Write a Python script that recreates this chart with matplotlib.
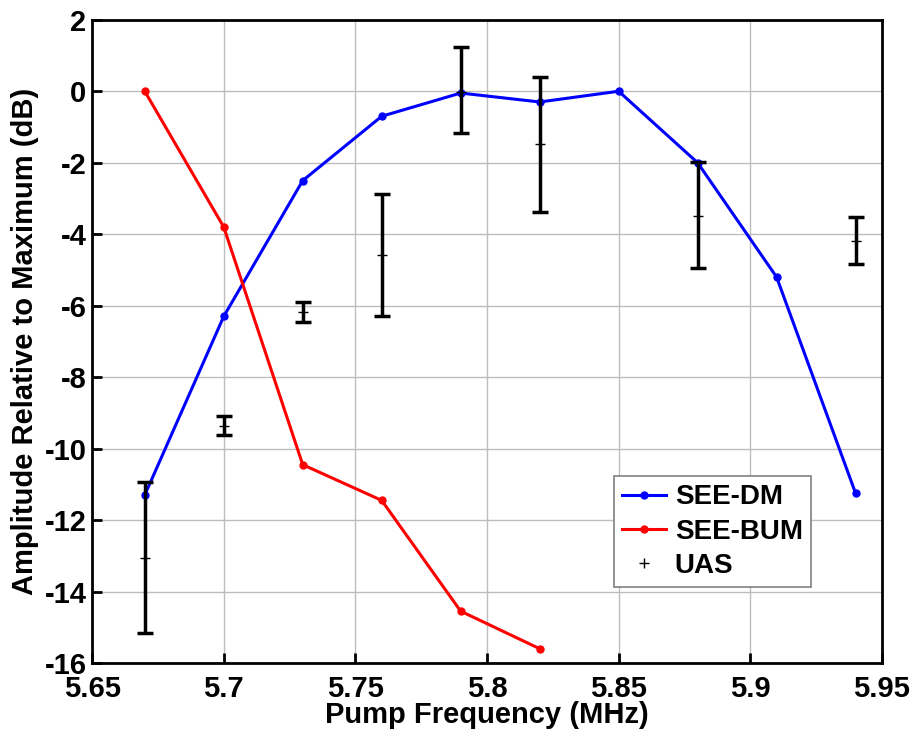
import numpy as np
import matplotlib
matplotlib.use('Agg')
import matplotlib.pyplot as plt
from matplotlib.lines import Line2D

plt.rcParams['font.family'] = ['Liberation Sans', 'DejaVu Sans']
plt.rcParams['font.weight'] = 'bold'
plt.rcParams['axes.unicode_minus'] = False

# SEE-DM
dm_freq = [5.67, 5.70, 5.73, 5.76, 5.79, 5.82, 5.85, 5.88, 5.91, 5.94]
dm_amp = [-11.3, -6.3, -2.5, -0.7, -0.05, -0.3, 0.0, -2.0, -5.2, -11.25]

# SEE-BUM
bum_freq = [5.67, 5.70, 5.73, 5.76, 5.79, 5.82]
bum_amp = [0.0, -3.8, -10.45, -11.45, -14.55, -15.6]

# UAS with asymmetric error bars
uas_freq = [5.67, 5.70, 5.73, 5.76, 5.79, 5.82, 5.88, 5.94]
uas_amp = [-13.07, -9.36, -6.17, -4.58, -0.02, -1.48, -3.49, -4.18]
uas_top = [-10.94, -9.08, -5.90, -2.88, 1.23, 0.41, -1.99, -3.53]
uas_bot = [-15.17, -9.62, -6.45, -6.28, -1.18, -3.37, -4.96, -4.84]

fig = plt.figure(figsize=(9.12, 7.33), dpi=100)
ax = fig.add_axes([0.101, 0.0955, 0.866, 0.8775])

ax.grid(True, color='#bdbdbd', linewidth=1.0, zorder=0)
ax.set_axisbelow(True)

ax.plot(dm_freq, dm_amp, '-', color='#0000ff', marker='o', markersize=5,
        linewidth=2.2, zorder=3)
ax.plot(bum_freq, bum_amp, '-', color='#ff0000', marker='o', markersize=5,
        linewidth=2.2, zorder=3)

uas_amp = np.array(uas_amp)
yerr = [uas_amp - np.array(uas_bot), np.array(uas_top) - uas_amp]
ax.errorbar(uas_freq, uas_amp, yerr=yerr, fmt='+', color='black',
            markersize=7, elinewidth=2.5, capsize=6, capthick=2.5, zorder=4)

ax.set_xlim(5.65, 5.95)
ax.set_ylim(-16, 2)
ax.set_xticks(np.arange(5.65, 5.951, 0.05))
ax.set_xticklabels(['5.65', '5.7', '5.75', '5.8', '5.85', '5.9', '5.95'])
ax.set_yticks(np.arange(-16, 3, 2))

ax.tick_params(direction='in', length=7, width=2, labelsize=21, pad=4)
ax.tick_params(axis='x', pad=9)
for s in ax.spines.values():
    s.set_linewidth(2)

ax.set_xlabel('Pump Frequency (MHz)', fontsize=21, fontweight='bold', labelpad=-2)
ax.set_ylabel('Amplitude Relative to Maximum (dB)', fontsize=21, fontweight='bold', labelpad=4)

handles = [
    Line2D([], [], color='#0000ff', marker='o', markersize=5, linewidth=2.2),
    Line2D([], [], color='#ff0000', marker='o', markersize=5, linewidth=2.2),
    Line2D([], [], color='black', marker='+', markersize=7, linestyle='none'),
]
labels = ['SEE-DM', 'SEE-BUM', 'UAS']
leg = ax.legend(handles, labels, loc='lower right', bbox_to_anchor=(0.928, 0.096),
                fontsize=20, fancybox=False, framealpha=1, edgecolor='#808080',
                handlelength=1.6, handletextpad=0.3, borderpad=0.3, labelspacing=0.3)
leg.get_frame().set_linewidth(1.2)

plt.savefig('out.png', dpi=100)
